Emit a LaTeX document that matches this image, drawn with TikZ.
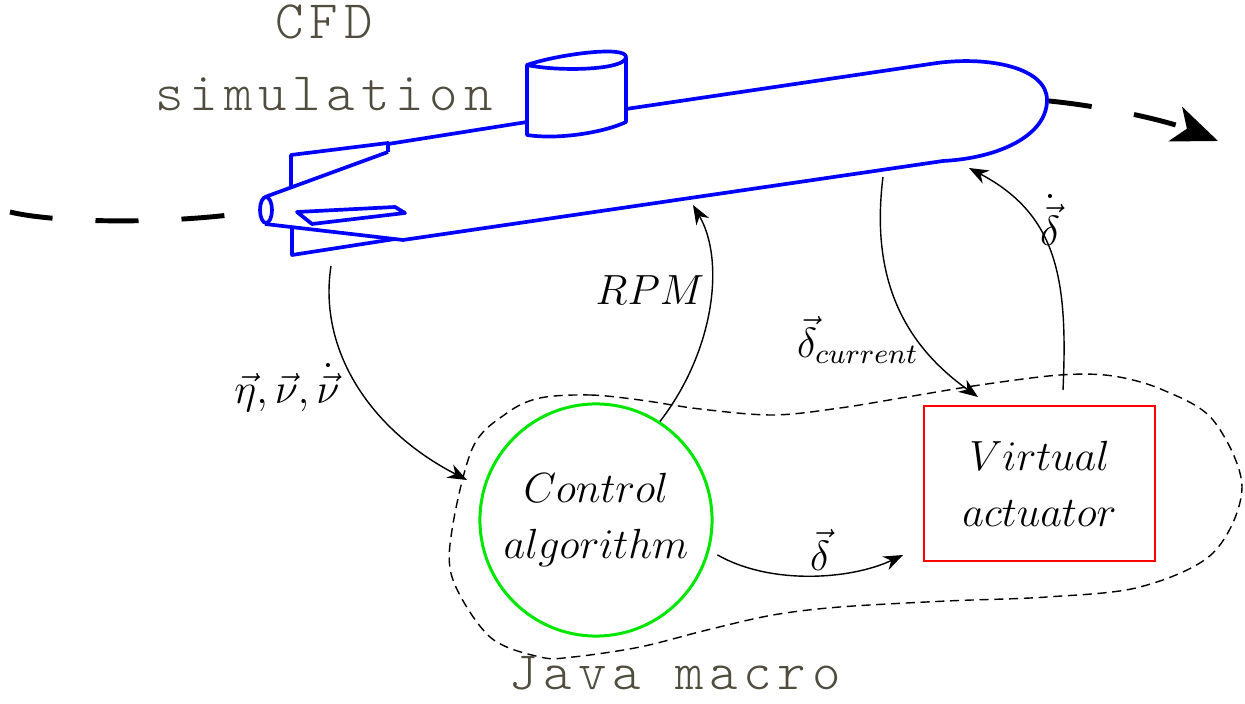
\documentclass[tikz,border=0pt]{standalone}
\usepackage{fontspec}
\usetikzlibrary{arrows.meta}

\newfontfamily\toolfont{lmmonolt10-regular.otf}[LetterSpace=10.8]

\definecolor{hullblue}{RGB}{0,0,255}
\definecolor{ctrlgreen}{RGB}{0,230,0}
\definecolor{labelgray}{RGB}{80,76,62}

\tikzset{
  hull/.style={draw=hullblue, line width=1.05pt, line join=round},
  track/.style={line width=1.4pt, dash pattern=on 0.43cm off 0.43cm},
  flow/.style={thin, -{Stealth[length=5.5pt,width=4.2pt]}},
  tool/.style={font=\toolfont\fontsize{15.4}{20.4}\selectfont, text=labelgray, align=center},
  var/.style={font=\fontsize{12}{16}\selectfont},
}

\begin{document}
\begin{tikzpicture}[x=0.01cm, y=-0.01cm]
    \useasboundingbox (0,0) rectangle (1245,704);

    % path of the vehicle
    \draw[track] (10,212) .. controls (60,224) and (180,224) .. (258,211);
    \draw[track, -{Stealth[length=13pt,width=10.5pt,inset=3.5pt]}] (1049,101) .. controls (1110,107) and (1170,122) .. (1218,141);

    % submarine
    \draw[hull] (265,197) -- (388,152);
    \draw[hull] (291,188) -- (291,155) -- (388,143) -- (388,152);
    \draw[hull] (388,144) -- (527,122);
    \draw[hull] (265,224) -- (403,240) -- (943,161) .. controls (1000,158) and (1047,135) .. (1047,100)
        .. controls (1047,68) and (990,56) .. (937,63) -- (626,109);
    \draw[hull] (292,228) -- (292,255) -- (395,239);
    \draw[hull] (297,212) -- (395,207) -- (405,213) -- (312,224) -- cycle;
    \draw[hull] (266,210) ellipse [x radius=0.06cm, y radius=0.13cm];
    \draw[hull] (527,65) .. controls (555,55) and (626,45) .. (626,57) .. controls (626,70) and (560,72) .. (527,65)
        -- (527,135) .. controls (560,140) and (605,132) .. (626,122) -- (626,57);

    % java side
    \draw[dash pattern=on 2.6pt off 1.6pt] plot[smooth cycle, tension=0.55] coordinates {
        (540,398) (590,395) (640,400) (700,409) (773,415) (840,408) (907,397) (980,385)
        (1060,375) (1113,376) (1163,390) (1213,420) (1242,487) (1213,553) (1140,587)
        (1047,597) (947,601) (840,607) (773,615) (707,630) (640,647) (573,657) (540,657)
        (490,637) (453,580) (452,530) (473,447) (507,413)};

    \node (cfd) [tool] at (324,58) {CFD\\simulation};
    \node (java) [tool] at (675,673) {Java macro};
    \node (ctrl) [draw=ctrlgreen, line width=0.85pt, circle, minimum size=2.32cm, inner sep=0pt, var, align=center]
        at (596,520) {$Control$\\$algorithm$};
    \node (act) [draw=red, line width=0.7pt, minimum width=2.31cm, minimum height=1.55cm, var, align=center]
        at (1039.5,483.5) {$Virtual$\\$actuator$};

    \coordinate (navout) at (331,266);
    \coordinate (navin) at (467,480);
    \coordinate (rpmin) at (693,205);
    \coordinate (curout) at (883,177);
    \coordinate (curin) at (978,397);
    \coordinate (rateout) at (1063,390);
    \coordinate (ratein) at (969,168);
    \coordinate (cmdin) at (903,555);

    \draw[flow] (navout) .. controls (318,350) and (370,430) .. (navin);
    \draw[flow] (ctrl.57) .. controls (715,350) and (725,260) .. (rpmin);
    \draw[flow] (curout) .. controls (870,280) and (905,345) .. (curin);
    \draw[flow] (rateout) .. controls (1068,280) and (1058,215) .. (ratein);
    \draw[flow, shorten <=0.09cm] (ctrl.-15) .. controls (770,585) and (850,580) .. (cmdin);

    \node (nav) [var] at (287,388) {$\vec{\eta},\vec{\nu},\dot{\vec{\nu}}$};
    \node (rpm) [var] at (650,290) {$RPM$};
    \node (cur) [var] at (858,340) {$\vec{\delta}_{current}$};
    \node (rate) [var] at (1050,220) {$\dot{\vec{\delta}}$};
    \node (cmd) [var] at (820,550) {$\vec{\delta}$};
\end{tikzpicture}
\end{document}
